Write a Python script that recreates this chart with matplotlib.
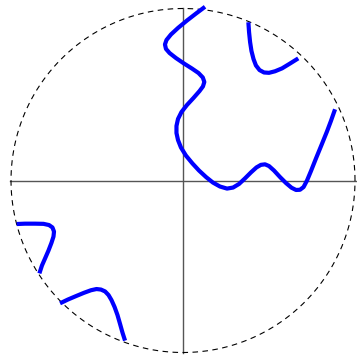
import numpy as np
import matplotlib
matplotlib.use('Agg')
import matplotlib.pyplot as plt

# curve pieces inside the unit disk
main_x = [0.128, 0.076, 0.023, -0.029, -0.070, -0.096, -0.105, -0.099, -0.078, -0.041,
          0.006, 0.052, 0.090, 0.115, 0.124, 0.116, 0.096, 0.061, 0.023, -0.009,
          -0.029, -0.038, -0.038, -0.029, -0.012, 0.017, 0.055, 0.093, 0.134, 0.174,
          0.215, 0.256, 0.291, 0.326, 0.360, 0.395, 0.427, 0.453, 0.477, 0.500,
          0.529, 0.564, 0.599, 0.631, 0.657, 0.680, 0.701, 0.721, 0.744, 0.773,
          0.805, 0.837, 0.860, 0.884]
main_y = [1.010, 0.971, 0.930, 0.887, 0.849, 0.817, 0.791, 0.765, 0.741, 0.712,
          0.680, 0.651, 0.625, 0.599, 0.573, 0.547, 0.520, 0.480, 0.439, 0.398,
          0.358, 0.317, 0.276, 0.235, 0.192, 0.145, 0.099, 0.058, 0.020, -0.012,
          -0.035, -0.047, -0.041, -0.020, 0.012, 0.047, 0.076, 0.091, 0.094, 0.084,
          0.058, 0.020, -0.015, -0.042, -0.055, -0.054, -0.038, 0.000, 0.055, 0.128,
          0.206, 0.285, 0.346, 0.414]

upper_x = [0.380, 0.384, 0.390, 0.398, 0.410, 0.424, 0.445, 0.471, 0.500, 0.535,
           0.576, 0.622, 0.670]
upper_y = [0.920, 0.863, 0.805, 0.753, 0.706, 0.669, 0.642, 0.628, 0.626, 0.635,
           0.652, 0.680, 0.710]

left_x = [-0.967, -0.919, -0.860, -0.811, -0.779, -0.759, -0.750, -0.753, -0.765,
          -0.782, -0.802, -0.820, -0.835]
left_y = [-0.253, -0.251, -0.251, -0.252, -0.259, -0.273, -0.297, -0.326, -0.363,
          -0.407, -0.453, -0.494, -0.540]

low_x = [-0.715, -0.669, -0.622, -0.576, -0.535, -0.503, -0.477, -0.453, -0.433,
         -0.416, -0.398, -0.381, -0.366, -0.352, -0.337]
low_y = [-0.714, -0.692, -0.672, -0.653, -0.638, -0.631, -0.634, -0.645, -0.666,
         -0.695, -0.735, -0.782, -0.834, -0.884, -0.931]

fig = plt.figure(figsize=(3.57, 3.55), dpi=100)
ax = fig.add_axes([0, 0, 1, 1])
ax.set_xlim(-1.064, 1.0116)
ax.set_ylim(-1.0145, 1.0494)
ax.axis('off')

# axes through origin
ax.plot([-1.005, 1.005], [0, 0], color='#555555', lw=1.0)
ax.plot([0, 0], [-1.005, 1.005], color='#555555', lw=1.0)

# dashed unit circle
t = np.linspace(0, 2 * np.pi, 400)
ax.plot(np.cos(t), np.sin(t), color='black', lw=0.8, linestyle=(0, (5, 4)))

for xs, ys in [(main_x, main_y), (upper_x, upper_y), (left_x, left_y), (low_x, low_y)]:
    ax.plot(xs, ys, color='blue', lw=3.0, solid_capstyle='butt', solid_joinstyle='round')

fig.savefig('out.png', dpi=100)
